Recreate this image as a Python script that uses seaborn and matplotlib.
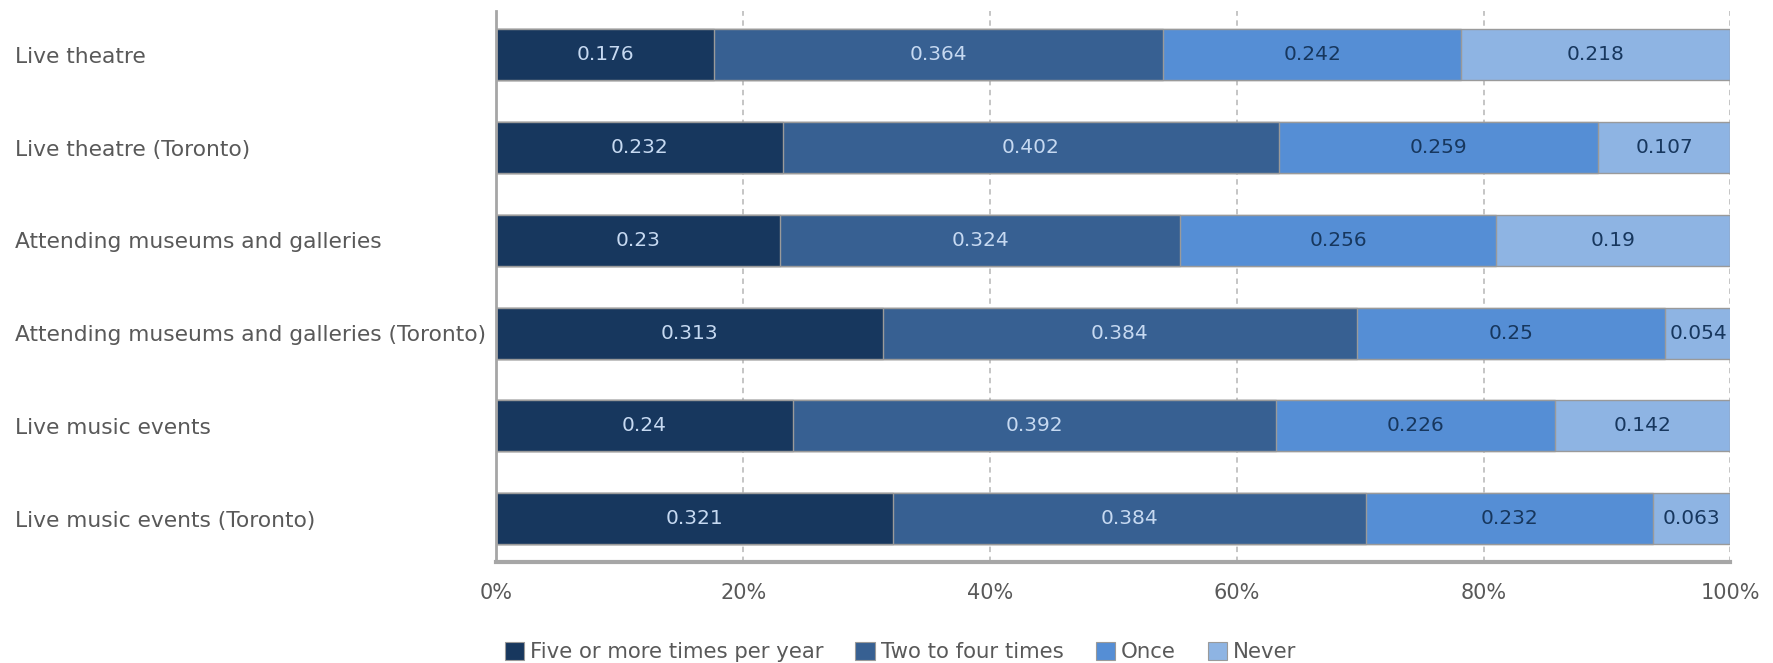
import numpy as np
import pandas as pd
import matplotlib
matplotlib.use("Agg")
import matplotlib.pyplot as plt
import matplotlib.transforms as mtransforms
import seaborn as sns
from matplotlib.patches import Patch

categories = [
    "Live theatre",
    "Live theatre (Toronto)",
    "Attending museums and galleries",
    "Attending museums and galleries (Toronto)",
    "Live music events",
    "Live music events (Toronto)",
]
series_names = ["Five or more times per year", "Two to four times", "Once", "Never"]
five_plus = [0.176, 0.232, 0.23, 0.313, 0.24, 0.321]
two_to_four = [0.364, 0.402, 0.324, 0.384, 0.392, 0.384]
once = [0.242, 0.259, 0.256, 0.25, 0.226, 0.232]
never = [0.218, 0.107, 0.19, 0.054, 0.142, 0.063]
x_ticks = [0, 0.2, 0.4, 0.6, 0.8, 1.0]
x_ticklabels = ["0%", "20%", "40%", "60%", "80%", "100%"]

colors = ["#17375E", "#376092", "#558ED5", "#8EB4E3"]
text_colors = ["#C6D9F1", "#C6D9F1", "#17375E", "#17375E"]

sns.set_theme(style="white")
plt.rcParams["font.family"] = ["DejaVu Sans"]

fig = plt.figure(figsize=(17.73, 6.63), dpi=100)
ax = fig.add_axes([0.280, 0.152, 0.696, 0.831])

series = [five_plus, two_to_four, once, never]
cum = np.cumsum(np.array(series), axis=0)
starts = cum - np.array(series)

# draw cumulative totals, longest first, to make stacked bars
for i in reversed(range(len(series))):
    df = pd.DataFrame({"category": categories, "value": cum[i]})
    sns.barplot(data=df, y="category", x="value", orient="h", color=colors[i],
                saturation=1, width=0.55, edgecolor="#9A9A9A", linewidth=1.0,
                ax=ax, zorder=2)

for i, vals in enumerate(series):
    for j, v in enumerate(vals):
        ax.text(starts[i][j] + v / 2, j, f"{v:g}", ha="center", va="center",
                color=text_colors[i], fontsize=14.5, zorder=3)

ax.set_xlim(0, 1.0)
ax.set_ylim(5.47, -0.47)
ax.set_xticks(x_ticks)
ax.set_xticklabels(x_ticklabels, color="#595959", fontsize=15)
ax.set_xlabel("")
ax.set_ylabel("")
ax.tick_params(axis="y", labelsize=15.7, labelcolor="#595959", length=0, pad=0)
ax.tick_params(axis="x", length=0, pad=15)
for lbl in ax.get_yticklabels():
    lbl.set_horizontalalignment("left")
    lbl.set_transform(mtransforms.blended_transform_factory(fig.transFigure, ax.transData))
    lbl.set_x(0.0085)

ax.xaxis.grid(True, linestyle=(0, (3, 2.5)), color="#C0C0C0", linewidth=1.3, zorder=0)
ax.set_axisbelow(True)
for s in ["top", "right"]:
    ax.spines[s].set_visible(False)
ax.spines["left"].set_color("#A6A6A6")
ax.spines["left"].set_linewidth(2)
ax.spines["bottom"].set_color("#A6A6A6")
ax.spines["bottom"].set_linewidth(3)

handles = [Patch(facecolor=c, edgecolor="#9A9A9A", linewidth=0.8) for c in colors]
fig.legend(handles, series_names, loc="center", bbox_to_anchor=(0.508, 0.016),
           ncol=4, frameon=False, fontsize=15.3, handlelength=0.9, handleheight=0.9,
           handletextpad=0.3, columnspacing=1.5, labelcolor="#595959",
           borderpad=0, borderaxespad=0)

fig.savefig("out.png", dpi=100)
